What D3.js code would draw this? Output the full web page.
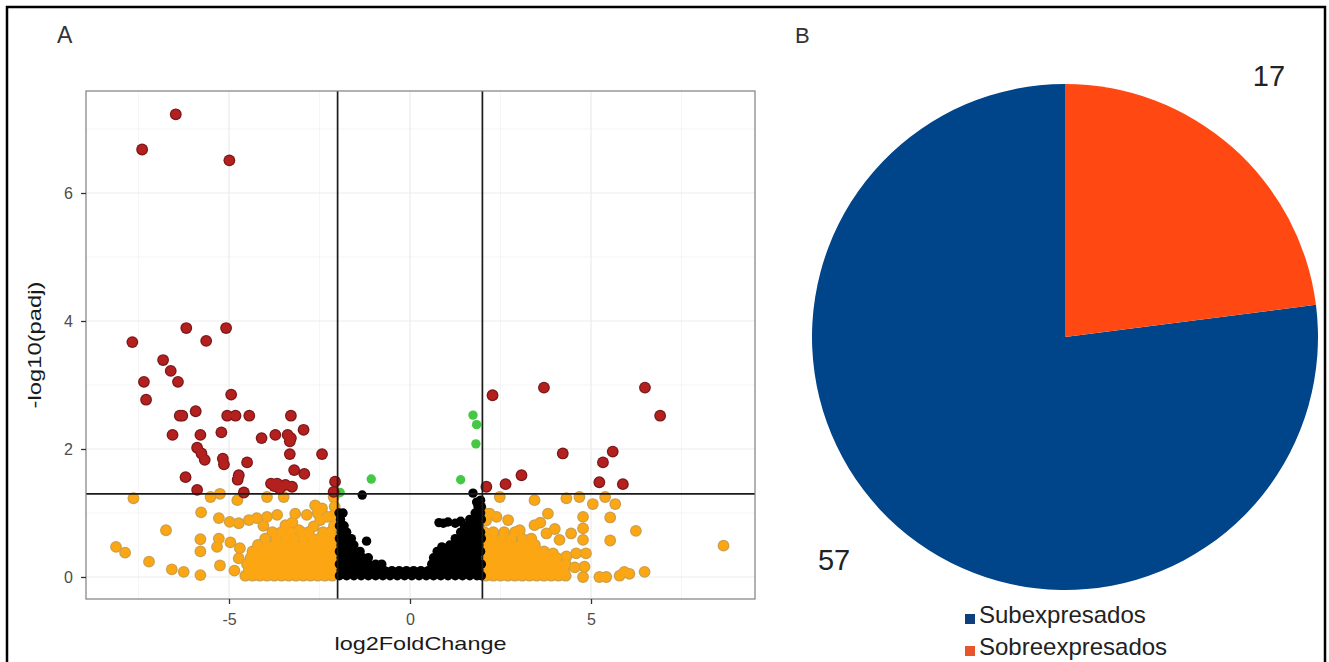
<!DOCTYPE html>
<html><head><meta charset="utf-8">
<script src="https://cdn.jsdelivr.net/npm/d3@7"></script>
<style>body{margin:0;background:#fff} svg{display:block}</style>
</head><body>
<svg id="c" width="1329" height="662"></svg>
<script>
// ---------------- DATA ----------------
const xTicks = [-5, 0, 5];
const yTicks = [0, 2, 4, 6];
const xMinor = [-7.5, -2.5, 2.5, 7.5];
const yMinor = [1, 3, 5, 7];
const lfcThreshold = [-2, 2];
const padjThreshold = 1.3;

const redPoints = [
  [-6.47,7.23],[-7.40,6.68],[-4.99,6.51],
  [-6.18,3.89],[-5.08,3.89],[-7.67,3.67],[-5.63,3.69],[-6.82,3.39],[-6.61,3.22],[-6.41,3.05],
  [-7.35,3.05],[-7.29,2.77],[-4.94,2.85],[-6.36,2.52],[-6.29,2.52],[-5.92,2.59],[-5.05,2.52],
  [-4.82,2.52],[-4.44,2.52],[-3.29,2.52],[-6.56,2.22],[-5.79,2.22],[-5.21,2.26],[-4.10,2.17],
  [-3.72,2.22],[-3.38,2.22],[-3.29,2.17],[-3.32,2.12],[-2.94,2.30],[-5.88,2.02],[-5.76,1.93],
  [-5.67,1.83],[-5.17,1.85],[-5.14,1.76],[-4.50,1.79],[-3.32,1.92],[-2.43,1.92],[-6.20,1.56],
  [-4.73,1.59],[-4.76,1.52],[-3.20,1.67],[-2.92,1.61],[-3.84,1.46],[-3.67,1.46],[-3.44,1.44],
  [-3.26,1.41],[-5.88,1.36],[-4.59,1.32],[-2.07,1.49],[-2.11,1.33],[-3.60,1.38],[-3.75,1.42],
  [2.28,2.84],[3.70,2.96],[6.49,2.96],[6.91,2.52],[4.22,1.93],[5.60,1.96],[5.33,1.79],
  [3.08,1.59],[2.64,1.45],[2.11,1.41],[5.23,1.48],[5.88,1.45]
];

const greenPoints = [
  [-1.07,1.53],[1.74,2.53],[1.84,2.38],[1.82,2.08],[1.40,1.52],[-1.93,1.32]
];

const orangePoints = [
  // left, scattered
  [-7.64,1.23],[-6.74,0.73],[-8.12,0.47],[-7.87,0.38],[-7.21,0.24],[-6.58,0.12],[-6.25,0.08],
  [-5.79,0.03],[-5.25,0.18],[-5.79,0.40],[-5.79,0.59],[-5.28,0.60],[-5.33,0.47],[-5.77,1.01],
  [-5.28,0.92],[-4.98,0.86],[-5.51,1.25],[-5.25,1.30],[-4.77,1.20],[-4.73,0.84],[-4.96,0.54],
  [-4.73,0.29],[-4.45,0.89],[-3.95,1.25],[-3.49,1.25],[-3.17,0.99],[-2.62,1.12],[-2.43,1.07],
  [-2.11,1.25],[-3.95,0.94],[-3.67,0.97],[-4.23,0.92],[-2.85,0.97],[-2.48,0.89],[-2.29,0.94],
  [-3.07,0.73],[-3.44,0.81],[-2.66,0.79],[-2.08,1.10],[-2.15,0.95],[-2.10,0.80],[-4.85,0.10],
  [-4.70,0.45],[-4.05,0.80],[-3.25,0.85],[-2.55,1.00],
  // left, dense
  [-4.55,0.02],[-4.35,0.02],[-4.15,0.02],[-3.95,0.02],[-3.75,0.02],[-3.55,0.02],[-3.35,0.02],
  [-3.15,0.02],[-2.95,0.02],[-2.75,0.02],[-2.55,0.02],[-2.35,0.02],[-2.15,0.02],
  [-4.45,0.10],[-4.25,0.10],[-4.05,0.10],[-3.85,0.10],[-3.65,0.10],[-3.45,0.10],[-3.25,0.10],
  [-3.05,0.10],[-2.85,0.10],[-2.65,0.10],[-2.45,0.10],[-2.25,0.10],[-2.08,0.10],
  [-4.50,0.20],[-4.30,0.20],[-4.10,0.20],[-3.90,0.20],[-3.70,0.20],[-3.50,0.20],[-3.30,0.20],
  [-3.10,0.20],[-2.90,0.20],[-2.70,0.20],[-2.50,0.20],[-2.30,0.20],[-2.10,0.20],
  [-4.40,0.30],[-4.20,0.30],[-4.00,0.30],[-3.80,0.30],[-3.60,0.30],[-3.40,0.30],[-3.20,0.30],
  [-3.00,0.30],[-2.80,0.30],[-2.60,0.30],[-2.40,0.30],[-2.20,0.30],[-2.05,0.30],
  [-4.35,0.40],[-4.10,0.40],[-3.90,0.40],[-3.70,0.40],[-3.50,0.40],[-3.30,0.40],[-3.10,0.40],
  [-2.90,0.40],[-2.70,0.40],[-2.50,0.40],[-2.30,0.40],[-2.10,0.40],
  [-4.20,0.50],[-3.95,0.50],[-3.75,0.50],[-3.55,0.50],[-3.35,0.50],[-3.15,0.50],[-2.95,0.50],
  [-2.75,0.50],[-2.55,0.50],[-2.35,0.50],[-2.15,0.50],
  [-4.00,0.60],[-3.70,0.60],[-3.45,0.60],[-3.20,0.60],[-2.95,0.60],[-2.70,0.60],[-2.50,0.60],
  [-2.30,0.60],[-2.10,0.60],
  [-3.80,0.70],[-3.55,0.70],[-3.30,0.70],[-3.00,0.70],[-2.80,0.70],[-2.40,0.70],[-2.20,0.70],
  // right, scattered
  [2.48,1.25],[3.44,1.20],[4.32,1.23],[4.68,1.25],[5.05,1.14],[5.39,1.25],[5.67,1.14],
  [5.53,0.93],[6.24,0.72],[5.53,0.57],[4.78,0.94],[4.78,0.76],[4.78,0.58],[3.81,0.99],
  [3.44,0.81],[4.45,0.68],[4.13,0.58],[4.32,0.32],[4.78,0.00],[5.23,0.00],[5.42,0.00],
  [5.79,0.02],[5.92,0.08],[6.06,0.05],[6.48,0.08],[8.66,0.49],[3.03,0.73],[2.71,0.89],
  [2.39,0.94],[2.20,0.99],[3.77,0.68],[3.95,0.37],[4.59,0.37],[4.86,0.37],[4.82,0.16],
  [2.05,1.00],[2.10,0.88],[3.60,0.85],[4.00,0.75],[4.55,0.15],
  // right, dense
  [2.10,0.02],[2.30,0.02],[2.50,0.02],[2.70,0.02],[2.90,0.02],[3.10,0.02],[3.30,0.02],
  [3.50,0.02],[3.70,0.02],[3.90,0.02],[4.10,0.02],[4.30,0.02],
  [2.05,0.10],[2.25,0.10],[2.45,0.10],[2.65,0.10],[2.85,0.10],[3.05,0.10],[3.25,0.10],
  [3.45,0.10],[3.65,0.10],[3.85,0.10],[4.05,0.10],[4.25,0.10],
  [2.10,0.20],[2.30,0.20],[2.50,0.20],[2.70,0.20],[2.90,0.20],[3.10,0.20],[3.30,0.20],
  [3.50,0.20],[3.70,0.20],[3.90,0.20],[4.10,0.20],[4.30,0.20],
  [2.05,0.30],[2.25,0.30],[2.45,0.30],[2.65,0.30],[2.85,0.30],[3.05,0.30],[3.25,0.30],
  [3.45,0.30],[3.65,0.30],[3.85,0.30],[4.05,0.30],
  [2.10,0.40],[2.30,0.40],[2.50,0.40],[2.70,0.40],[2.90,0.40],[3.10,0.40],[3.30,0.40],
  [3.50,0.40],[3.70,0.40],
  [2.05,0.50],[2.25,0.50],[2.45,0.50],[2.65,0.50],[2.85,0.50],[3.05,0.50],[3.25,0.50],[3.45,0.50],
  [2.10,0.60],[2.30,0.60],[2.55,0.60],[2.80,0.60],[3.10,0.60],[3.35,0.60],
  [2.05,0.70],[2.30,0.70],[2.60,0.70],[2.90,0.70]
];

const blackPoints = [
  [-1.32,1.28],[-1.20,0.56],[0.92,0.84],[0.88,0.47],[1.74,1.31],[1.84,1.17],
  [0.80,0.85],[1.05,0.86],[1.25,0.84],[1.40,0.87],
  [-1.95,0.02],[-1.75,0.02],[-1.55,0.02],[-1.35,0.02],[-1.15,0.02],[-0.95,0.02],[-0.75,0.02],
  [-0.55,0.02],[-0.35,0.02],[-0.15,0.02],[0.05,0.02],[0.25,0.02],[0.45,0.02],[0.65,0.02],
  [0.85,0.02],[1.05,0.02],[1.25,0.02],[1.45,0.02],[1.65,0.02],[1.85,0.02],[1.97,0.02],
  [-0.65,0.06],[-0.25,0.06],[0.15,0.06],[0.55,0.06],
  [-1.90,0.10],[-1.70,0.10],[-1.50,0.10],[-1.30,0.10],[-1.10,0.10],[-0.90,0.10],[-0.70,0.10],
  [-0.50,0.10],[-0.30,0.10],[-0.10,0.10],[0.10,0.10],[0.30,0.10],[0.50,0.10],[0.70,0.10],
  [0.90,0.10],[1.10,0.10],[1.30,0.10],[1.50,0.10],[1.70,0.10],[1.90,0.10],
  [-1.95,0.20],[-1.75,0.20],[-1.55,0.20],[-1.35,0.20],[-1.15,0.20],[-0.95,0.20],[-0.78,0.20],
  [0.60,0.20],[0.80,0.20],[1.00,0.20],[1.20,0.20],[1.40,0.20],[1.60,0.20],[1.80,0.20],[1.97,0.20],
  [-1.90,0.30],[-1.70,0.30],[-1.50,0.30],[-1.30,0.30],[-1.15,0.30],
  [0.65,0.30],[0.85,0.30],[1.05,0.30],[1.25,0.30],[1.45,0.30],[1.65,0.30],[1.85,0.30],
  [-1.95,0.40],[-1.75,0.40],[-1.55,0.40],[-1.38,0.40],
  [0.75,0.40],[0.95,0.40],[1.15,0.40],[1.35,0.40],[1.55,0.40],[1.75,0.40],[1.95,0.40],
  [-1.90,0.50],[-1.70,0.50],[-1.55,0.50],[1.10,0.50],[1.30,0.50],[1.50,0.50],[1.70,0.50],[1.90,0.50],
  [-1.95,0.60],[-1.75,0.60],[-1.62,0.60],[1.25,0.60],[1.45,0.60],[1.65,0.60],[1.85,0.60],[1.97,0.60],
  [-1.90,0.70],[-1.75,0.70],[1.40,0.70],[1.60,0.70],[1.80,0.70],[1.95,0.70],
  [-1.95,0.80],[-1.82,0.80],[1.50,0.80],[1.70,0.80],[1.90,0.80],
  [-1.92,0.90],[1.65,0.90],[1.85,0.90],[1.97,0.90],
  [-1.96,1.00],[-1.85,1.00],[1.80,1.00],[1.95,1.00],
  [1.88,1.10],[1.97,1.10],[1.95,1.20]
];

const pieCategories = ["Subexpresados", "Sobreexpresados"];
const pieValues = [57, 17];

// ---------------- DRAW ----------------
const FONT = "'Liberation Sans', Arial, Helvetica, sans-serif";
const svg = d3.select("#c");

svg.append("rect").attr("x", 7).attr("y", 7).attr("width", 1318).attr("height", 680)
  .attr("fill", "none").attr("stroke", "#000").attr("stroke-width", 2.5);

// ---- Panel A: volcano ----
const P = {l: 86, r: 755, t: 91, b: 599};
const x = d3.scaleLinear().domain([-8.95, 9.53]).range([P.l, P.r]);
const y = d3.scaleLinear().domain([-0.344, 7.594]).range([P.b, P.t]);

svg.append("defs").append("clipPath").attr("id", "clipA")
  .append("rect").attr("x", P.l).attr("y", P.t).attr("width", P.r - P.l).attr("height", P.b - P.t);

const grid = svg.append("g");
grid.selectAll(null).data(xMinor).join("line")
  .attr("x1", d => x(d)).attr("x2", d => x(d)).attr("y1", P.t).attr("y2", P.b)
  .attr("stroke", "#F3F3F3").attr("stroke-width", 0.8);
grid.selectAll(null).data(yMinor).join("line")
  .attr("y1", d => y(d)).attr("y2", d => y(d)).attr("x1", P.l).attr("x2", P.r)
  .attr("stroke", "#F3F3F3").attr("stroke-width", 0.8);
grid.selectAll(null).data(xTicks).join("line")
  .attr("x1", d => x(d)).attr("x2", d => x(d)).attr("y1", P.t).attr("y2", P.b)
  .attr("stroke", "#EBEBEB").attr("stroke-width", 1.2);
grid.selectAll(null).data(yTicks).join("line")
  .attr("y1", d => y(d)).attr("y2", d => y(d)).attr("x1", P.l).attr("x2", P.r)
  .attr("stroke", "#EBEBEB").attr("stroke-width", 1.2);

const plot = svg.append("g").attr("clip-path", "url(#clipA)");
const R = 4.7;
function drawGroup(data, fill, ring) {
  const g = plot.append("g");
  if (ring) {
    g.selectAll(null).data(data).join("circle")
      .attr("cx", d => x(d[0])).attr("cy", d => y(d[1])).attr("r", R + 1.2).attr("fill", ring);
  }
  g.selectAll(null).data(data).join("circle")
    .attr("cx", d => x(d[0])).attr("cy", d => y(d[1])).attr("r", R).attr("fill", fill);
}
drawGroup(orangePoints, "#FBA612", "#C9A04E");
drawGroup(blackPoints, "#000000", null);
drawGroup(greenPoints, "#45C945", null);
drawGroup(redPoints, "#B3201E", "#78181A");

// threshold lines
const thr = svg.append("g");
thr.selectAll(null).data(lfcThreshold).join("line")
  .attr("x1", d => x(d)).attr("x2", d => x(d)).attr("y1", P.t).attr("y2", P.b)
  .attr("stroke", "#1a1a1a").attr("stroke-width", 1.7);
thr.append("line").attr("x1", P.l).attr("x2", P.r).attr("y1", y(padjThreshold)).attr("y2", y(padjThreshold))
  .attr("stroke", "#1a1a1a").attr("stroke-width", 1.7);

svg.append("rect").attr("x", P.l).attr("y", P.t).attr("width", P.r - P.l).attr("height", P.b - P.t)
  .attr("fill", "none").attr("stroke", "#7F7F7F").attr("stroke-width", 1.2);

// axes
const gx = svg.append("g").attr("transform", `translate(0,${P.b})`)
  .call(d3.axisBottom(x).tickValues(xTicks).tickSize(5).tickPadding(10).tickFormat(d => String(d)));
const gy = svg.append("g").attr("transform", `translate(${P.l},0)`)
  .call(d3.axisLeft(y).tickValues(yTicks).tickSize(5).tickPadding(8).tickFormat(d => String(d)));
[gx, gy].forEach(g => {
  g.select(".domain").remove();
  g.selectAll(".tick line").attr("stroke", "#333").attr("stroke-width", 1.3);
  g.selectAll(".tick text").attr("fill", "#4D4D4D").style("font-family", FONT).style("font-size", "16px");
});

svg.append("text").attr("x", (P.l + P.r) / 2).attr("y", 650).attr("text-anchor", "middle")
  .attr("textLength", 172).attr("lengthAdjust", "spacingAndGlyphs")
  .style("font-family", FONT).style("font-size", "19px").attr("fill", "#1a1a1a").text("log2FoldChange");
svg.append("text").attr("transform", `translate(41,${(P.t + P.b) / 2}) rotate(-90)`).attr("text-anchor", "middle")
  .attr("textLength", 127).attr("lengthAdjust", "spacingAndGlyphs")
  .style("font-family", FONT).style("font-size", "19px").attr("fill", "#1a1a1a").text("-log10(padj)");

svg.append("text").attr("x", 57).attr("y", 43).style("font-family", FONT).style("font-size", "23px")
  .attr("fill", "#333").text("A");
svg.append("text").attr("x", 795).attr("y", 43).style("font-family", FONT).style("font-size", "22px")
  .attr("fill", "#333").text("B");

// ---- Panel B: pie ----
const pieColors = d3.scaleOrdinal().domain(pieCategories).range(["#00448A", "#FF4812"]);
const pieData = pieCategories.map((c, i) => ({label: c, value: pieValues[i]}));
const pieR = 253;
const pc = {x: 1065, y: 337};
const arcs = d3.pie().value(d => d.value).sort((a, b) => a.value - b.value)(pieData);
const arcGen = d3.arc().innerRadius(0).outerRadius(pieR);
const gp = svg.append("g").attr("transform", `translate(${pc.x},${pc.y})`);
gp.selectAll("path").data(arcs).join("path").attr("d", arcGen)
  .attr("fill", d => pieColors(d.data.label));

const labelArc = d3.arc().innerRadius(pieR * 1.19).outerRadius(pieR * 1.19);
const labelNudge = {"Subexpresados": [-32, -3], "Sobreexpresados": [5, -35]};
gp.selectAll("text").data(arcs).join("text")
  .attr("x", d => labelArc.centroid(d)[0] + labelNudge[d.data.label][0])
  .attr("y", d => labelArc.centroid(d)[1] + labelNudge[d.data.label][1])
  .attr("text-anchor", "middle").attr("dominant-baseline", "central")
  .style("font-family", FONT).style("font-size", "29px").attr("fill", "#222")
  .text(d => d.data.value);

// legend
const legendColors = ["#0C3F7C", "#E8552A"];
const lg = svg.append("g").attr("transform", "translate(965,614)");
const li = lg.selectAll("g").data(pieCategories).join("g").attr("transform", (d, i) => `translate(0,${i * 32})`);
li.append("rect").attr("width", 10).attr("height", 10).attr("fill", (d, i) => legendColors[i]);
li.append("text").attr("x", 14).attr("y", 9).style("font-family", FONT).style("font-size", "24px")
  .attr("fill", "#222").text(d => d);
</script></body></html>
